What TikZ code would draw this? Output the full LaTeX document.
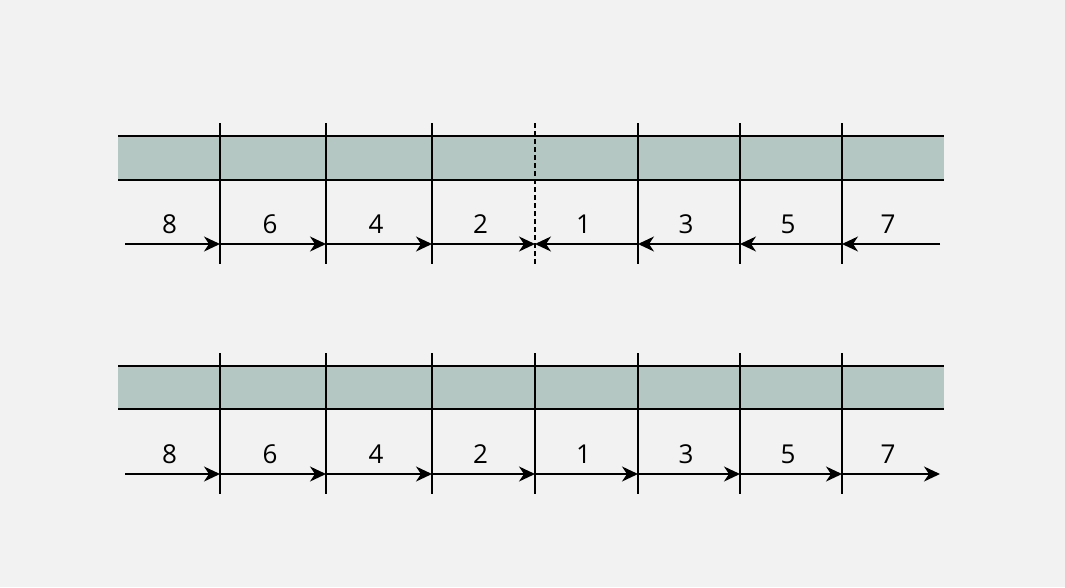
\documentclass[tikz,border=0pt]{standalone}
\usepackage{fontspec}
\setmainfont{Open Sans}
\usetikzlibrary{arrows.meta}
\definecolor{bandgray}{HTML}{B5C7C3}
\definecolor{paper}{HTML}{F2F2F2}
\tikzset{
  edge/.style={line width=2pt},
  tick/.style={line width=1.6pt},
  dimarrow/.style={line width=1.6pt,-{Stealth[length=16pt,width=15pt,inset=5pt]}},
  num/.style={font=\fontsize{26}{30}\selectfont,inner sep=0pt}
}
\begin{document}
\begin{tikzpicture}[x=1pt,y=-1pt]
  \fill[paper] (0,0) rectangle (1065,587);
  % the two bands
  \foreach\r/\a/\b in {t/136/180, b/366/409}
  {\fill[bandgray] (118,\a) rectangle (944,\b);
   \draw[edge] (118,\a) -- (944,\a) (118,\b) -- (944,\b);}
  % stops along the arrows
  \foreach\i/\x in {0/125, 1/220, 2/326, 3/432, 4/535, 5/638, 6/740, 7/842, 8/940}
  {\coordinate (t\i) at (\x,244); \coordinate (b\i) at (\x,474);}
  % vertical lines
  \foreach\x in {220, 326, 432, 638, 740, 842}
  {\draw[tick] (\x,123) -- (\x,264); \draw[tick] (\x,353) -- (\x,494);}
  \draw[tick] (535,353) -- (535,494);
  \draw[line width=1.4pt,dash pattern=on 5pt off 3pt] (535,123) -- (535,264);
  % arrows and numbers
  \foreach\i/\j/\n in {1/0/8, 2/1/6, 3/2/4, 4/3/2, 5/4/1, 6/5/3, 7/6/5, 8/7/7}
  {\path (t\j) -- (t\i) node[num,midway,yshift=20pt,xshift=-3pt] (nt\n) {\n};
   \path (b\j) -- (b\i) node[num,midway,yshift=20pt,xshift=-3pt] (nb\n) {\n};
   \draw[dimarrow] (b\j) -- (b\i);}
  \foreach\i/\j in {0/1, 1/2, 2/3, 3/4, 5/4, 6/5, 7/6, 8/7}
  {\draw[dimarrow] (t\i) -- (t\j);}
\end{tikzpicture}
\end{document}
